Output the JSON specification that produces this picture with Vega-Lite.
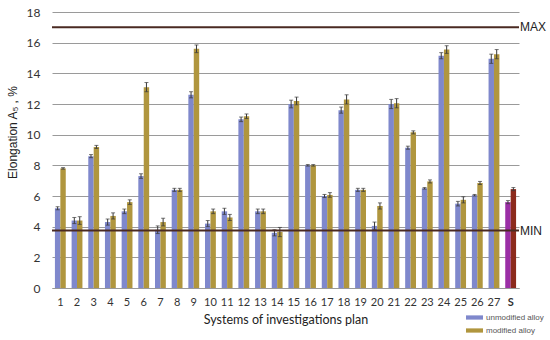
{
  "$schema": "https://vega.github.io/schema/vega-lite/v6.json",
  "autosize": {"type": "none"},
  "width": 467,
  "height": 276,
  "padding": {"left": 52, "top": 12, "right": 31, "bottom": 52},
  "background": "white",
  "config": {"font": "Lato", "view": {"stroke": null}},
  "datasets": {
    "bars": [
      {"plan": "1", "series": "unmodified alloy", "value": 5.2, "err": 0.1},
      {"plan": "1", "series": "modified alloy", "value": 7.8, "err": 0.05},
      {"plan": "2", "series": "unmodified alloy", "value": 4.4, "err": 0.2},
      {"plan": "2", "series": "modified alloy", "value": 4.4, "err": 0.25},
      {"plan": "3", "series": "unmodified alloy", "value": 8.6, "err": 0.1},
      {"plan": "3", "series": "modified alloy", "value": 9.2, "err": 0.1},
      {"plan": "4", "series": "unmodified alloy", "value": 4.3, "err": 0.2},
      {"plan": "4", "series": "modified alloy", "value": 4.7, "err": 0.2},
      {"plan": "5", "series": "unmodified alloy", "value": 5.0, "err": 0.15},
      {"plan": "5", "series": "modified alloy", "value": 5.6, "err": 0.15},
      {"plan": "6", "series": "unmodified alloy", "value": 7.3, "err": 0.15},
      {"plan": "6", "series": "modified alloy", "value": 13.1, "err": 0.3},
      {"plan": "7", "series": "unmodified alloy", "value": 3.8, "err": 0.25},
      {"plan": "7", "series": "modified alloy", "value": 4.3, "err": 0.25},
      {"plan": "8", "series": "unmodified alloy", "value": 6.4, "err": 0.1},
      {"plan": "8", "series": "modified alloy", "value": 6.4, "err": 0.1},
      {"plan": "9", "series": "unmodified alloy", "value": 12.6, "err": 0.2},
      {"plan": "9", "series": "modified alloy", "value": 15.6, "err": 0.25},
      {"plan": "10", "series": "unmodified alloy", "value": 4.2, "err": 0.2},
      {"plan": "10", "series": "modified alloy", "value": 5.0, "err": 0.15},
      {"plan": "11", "series": "unmodified alloy", "value": 5.0, "err": 0.2},
      {"plan": "11", "series": "modified alloy", "value": 4.6, "err": 0.2},
      {"plan": "12", "series": "unmodified alloy", "value": 11.0, "err": 0.15},
      {"plan": "12", "series": "modified alloy", "value": 11.2, "err": 0.15},
      {"plan": "13", "series": "unmodified alloy", "value": 5.0, "err": 0.15},
      {"plan": "13", "series": "modified alloy", "value": 5.0, "err": 0.15},
      {"plan": "14", "series": "unmodified alloy", "value": 3.6, "err": 0.2},
      {"plan": "14", "series": "modified alloy", "value": 3.65, "err": 0.3},
      {"plan": "15", "series": "unmodified alloy", "value": 12.0, "err": 0.25},
      {"plan": "15", "series": "modified alloy", "value": 12.2, "err": 0.25},
      {"plan": "16", "series": "unmodified alloy", "value": 8.0, "err": 0.05},
      {"plan": "16", "series": "modified alloy", "value": 8.0, "err": 0.05},
      {"plan": "17", "series": "unmodified alloy", "value": 6.0, "err": 0.1},
      {"plan": "17", "series": "modified alloy", "value": 6.07, "err": 0.15},
      {"plan": "18", "series": "unmodified alloy", "value": 11.6, "err": 0.2},
      {"plan": "18", "series": "modified alloy", "value": 12.3, "err": 0.3},
      {"plan": "19", "series": "unmodified alloy", "value": 6.4, "err": 0.1},
      {"plan": "19", "series": "modified alloy", "value": 6.4, "err": 0.1},
      {"plan": "20", "series": "unmodified alloy", "value": 4.05, "err": 0.25},
      {"plan": "20", "series": "modified alloy", "value": 5.35, "err": 0.2},
      {"plan": "21", "series": "unmodified alloy", "value": 12.0, "err": 0.3},
      {"plan": "21", "series": "modified alloy", "value": 12.05, "err": 0.3},
      {"plan": "22", "series": "unmodified alloy", "value": 9.15, "err": 0.1},
      {"plan": "22", "series": "modified alloy", "value": 10.15, "err": 0.1},
      {"plan": "23", "series": "unmodified alloy", "value": 6.5, "err": 0.05},
      {"plan": "23", "series": "modified alloy", "value": 6.95, "err": 0.1},
      {"plan": "24", "series": "unmodified alloy", "value": 15.15, "err": 0.2},
      {"plan": "24", "series": "modified alloy", "value": 15.55, "err": 0.25},
      {"plan": "25", "series": "unmodified alloy", "value": 5.5, "err": 0.15},
      {"plan": "25", "series": "modified alloy", "value": 5.75, "err": 0.2},
      {"plan": "26", "series": "unmodified alloy", "value": 6.05, "err": 0.05},
      {"plan": "26", "series": "modified alloy", "value": 6.85, "err": 0.1},
      {"plan": "27", "series": "unmodified alloy", "value": 14.95, "err": 0.3},
      {"plan": "27", "series": "modified alloy", "value": 15.25, "err": 0.3},
      {"plan": "S", "series": "unmodified alloy", "value": 5.6, "err": 0.1},
      {"plan": "S", "series": "modified alloy", "value": 6.45, "err": 0.1}
    ],
    "limits": [
      {"label": "MAX", "value": 17},
      {"label": "MIN", "value": 3.75}
    ]
  },
  "encoding": {
    "y": {
      "field": "value", "type": "quantitative",
      "scale": {"domain": [0, 18], "nice": false},
      "axis": {
        "title": "Elongation A₅ , %",
        "titleFont": "Liberation Sans", "titleFontSize": 12, "titleFontWeight": "normal", "titleColor": "#222",
        "titlePadding": 7, "titleY": 120,
        "values": [0, 2, 4, 6, 8, 10, 12, 14, 16, 18],
        "labelFontSize": 12, "labelColor": "#333", "labelPadding": 12,
        "ticks": false, "domain": false,
        "grid": true, "gridColor": "#9a9a9a", "gridWidth": 1
      }
    }
  },
  "layer": [
    {
      "data": {"name": "bars"},
      "mark": {"type": "bar"},
      "encoding": {
        "x": {
          "field": "plan", "type": "nominal", "sort": null,
          "scale": {"paddingInner": 0.35, "paddingOuter": 0.175},
          "axis": {
            "title": "Systems of investigations plan",
            "titleFont": "Lato", "titleFontSize": 12.5, "titleFontWeight": "normal", "titleColor": "#222",
            "titlePadding": 6,
            "labelAngle": 0, "labelFontSize": 11, "labelColor": "#333", "labelPadding": 8,
            "labelFontWeight": {"condition": {"test": "datum.value === 'S'", "value": "bold"}, "value": "normal"},
            "ticks": false, "domain": true, "domainColor": "#999", "grid": false
          }
        },
        "xOffset": {"field": "series", "type": "nominal", "sort": ["unmodified alloy", "modified alloy"], "scale": {"paddingInner": 0}},
        "color": {
          "condition": [
            {"test": "datum.plan === 'S' && datum.series === 'unmodified alloy'", "value": "#9b2fa6"},
            {"test": "datum.plan === 'S' && datum.series === 'modified alloy'", "value": "#8c2a1c"}
          ],
          "field": "series", "type": "nominal",
          "sort": ["unmodified alloy", "modified alloy"],
          "scale": {"domain": ["unmodified alloy", "modified alloy"], "range": ["#7f88cc", "#b0963e"]},
          "legend": {
            "title": null, "orient": "none", "legendX": 414, "legendY": 297,
            "symbolType": "M-1,-0.25L1,-0.25L1,0.25L-1,0.25Z", "symbolSize": 289,
            "symbolStrokeWidth": 0,
            "labelFontSize": 8, "labelColor": "#555", "labelFont": "Liberation Sans",
            "rowPadding": -12, "labelOffset": 3
          }
        }
      }
    },
    {
      "data": {"name": "bars"},
      "mark": {"type": "errorbar", "ticks": {"size": 4, "color": "#3a3a3a"}, "rule": {"color": "#3a3a3a"}, "color": "#3a3a3a"},
      "encoding": {
        "x": {"field": "plan", "type": "nominal", "sort": null},
        "xOffset": {"field": "series", "type": "nominal", "sort": ["unmodified alloy", "modified alloy"]},
        "yError": {"field": "err"}
      }
    },
    {
      "data": {"name": "limits"},
      "mark": {"type": "rule", "color": "#4a2a22", "strokeWidth": 2}
    },
    {
      "data": {"name": "limits"},
      "mark": {"type": "text", "align": "left", "baseline": "middle", "dx": 1, "fontSize": 12, "font": "Liberation Sans", "color": "#222"},
      "encoding": {
        "x": {"value": {"expr": "width"}},
        "text": {"field": "label"}
      }
    }
  ]
}
